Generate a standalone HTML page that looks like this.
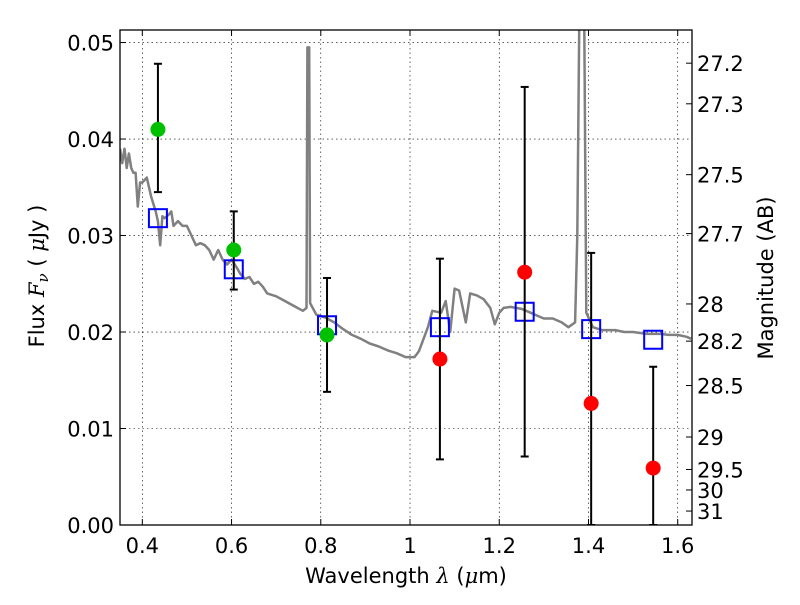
<!DOCTYPE html>
<html><head><meta charset="utf-8"><style>
body{margin:0;background:#fff;}
svg{font-family:"DejaVu Sans","Liberation Sans",sans-serif;}
</style></head><body>
<svg id="c" width="800" height="600"></svg>
<script>
const xTicks=[0.4,0.6,0.8,1.0,1.2,1.4,1.6];
const xTickLabels=["0.4","0.6","0.8","1","1.2","1.4","1.6"];
const yTicks=[0,0.01,0.02,0.03,0.04,0.05];
const yTickLabels=["0.00","0.01","0.02","0.03","0.04","0.05"];
const magTicks=[27.2,27.3,27.5,27.7,28,28.2,28.5,29,29.5,30,31];
const magTickLabels=["27.2","27.3","27.5","27.7","28","28.2","28.5","29","29.5","30","31"];
const greenX=[0.435,0.605,0.814];
const greenY=[0.0410,0.0285,0.0197];
const greenLo=[0.0345,0.0244,0.0138];
const greenHi=[0.0478,0.0325,0.0256];
const redX=[1.067,1.257,1.406,1.545];
const redY=[0.0172,0.0262,0.0126,0.0059];
const redLo=[0.0068,0.0071,0.0,0.0];
const redHi=[0.0276,0.0454,0.0282,0.0164];
const boxX=[0.435,0.605,0.814,1.067,1.257,1.406,1.545];
const boxY=[0.0318,0.0265,0.0207,0.0205,0.0221,0.0203,0.0192];
const specX=[0.350,0.355,0.36,0.365,0.37,0.375,0.38,0.385,0.39,0.395,0.40,0.41,0.42,0.43,0.435,0.44,0.445,0.45,0.46,0.465,0.47,0.48,0.49,0.50,0.51,0.52,0.53,0.54,0.55,0.56,0.57,0.58,0.59,0.60,0.61,0.62,0.63,0.64,0.65,0.66,0.67,0.68,0.70,0.72,0.74,0.76,0.768,0.770,0.774,0.776,0.79,0.81,0.83,0.85,0.87,0.89,0.91,0.93,0.95,0.97,0.99,1.01,1.02,1.04,1.05,1.07,1.08,1.09,1.10,1.11,1.125,1.135,1.15,1.165,1.18,1.19,1.20,1.21,1.225,1.25,1.27,1.29,1.30,1.32,1.34,1.355,1.37,1.375,1.38,1.39,1.395,1.41,1.43,1.46,1.48,1.50,1.53,1.56,1.58,1.60,1.62,1.63];
const specY=[0.039,0.0375,0.039,0.037,0.0385,0.037,0.0365,0.0365,0.033,0.0355,0.0355,0.036,0.034,0.0325,0.0315,0.029,0.032,0.0318,0.0322,0.0325,0.031,0.0315,0.031,0.031,0.030,0.029,0.0292,0.029,0.0285,0.0275,0.0285,0.0275,0.027,0.0275,0.0268,0.026,0.0255,0.0257,0.025,0.0252,0.0247,0.024,0.0237,0.0232,0.0227,0.0222,0.0225,0.0495,0.0495,0.023,0.0218,0.0215,0.021,0.0203,0.0197,0.0193,0.0188,0.0185,0.0181,0.0178,0.0174,0.0174,0.018,0.0205,0.0222,0.022,0.0232,0.020,0.0245,0.0243,0.021,0.024,0.0238,0.0234,0.0225,0.0208,0.022,0.0225,0.0226,0.0224,0.0220,0.0216,0.0214,0.0214,0.021,0.0205,0.021,0.030,0.056,0.056,0.022,0.0205,0.0202,0.0202,0.0200,0.0200,0.0198,0.0198,0.0197,0.0197,0.0195,0.0193];

const L=120,R=692,T=30,B=525;
const x0=0.35,x1=1.632,y0=0,y1=0.0513;
const sx=v=>L+(v-x0)/(x1-x0)*(R-L);
const sy=v=>B-(v-y0)/(y1-y0)*(B-T);
const magToFlux=m=>Math.pow(10,(23.9-m)/2.5);
const svg=document.getElementById('c');
const NS='http://www.w3.org/2000/svg';
function mk(tag,attrs,parent){const e=document.createElementNS(NS,tag);for(const k in attrs)e.setAttribute(k,attrs[k]);(parent||svg).appendChild(e);return e;}

const defs=mk('defs',{});
const cp=mk('clipPath',{id:'clip'},defs);
mk('rect',{x:L,y:T,width:R-L,height:B-T},cp);

xTicks.forEach((t,i)=>{
  const g=mk('line',{x1:sx(t),x2:sx(t),y1:T,y2:B,stroke:'#000','stroke-width':0.6,'stroke-dasharray':'1.5,3'});
  
  
});
yTicks.forEach((t,i)=>{
  const g=mk('line',{x1:L,x2:R,y1:sy(t),y2:sy(t),stroke:'#000','stroke-width':0.6,'stroke-dasharray':'1.5,3'});
  
  
});

const gSpec=mk('g',{'clip-path':'url(#clip)'});


let d='';
specX.forEach((v,i)=>{d+=(i?'L':'M')+sx(v).toFixed(1)+','+sy(specY[i]).toFixed(1);});
const sp=mk('path',{d:d,fill:'none',stroke:'#808080','stroke-width':2.5,'stroke-linejoin':'round'},gSpec);



const gMarks=mk('g',{'clip-path':'url(#clip)'});
boxX.forEach((v,i)=>{
  const r=mk('rect',{x:sx(v)-9,y:sy(boxY[i])-9,width:18,height:18,fill:'none',stroke:'#0000ff','stroke-width':2},gMarks);
  
  
});
function errbar(x,lo,hi){
  const e=mk('line',{x1:sx(x),x2:sx(x),y1:sy(lo),y2:sy(hi),stroke:'#000','stroke-width':2},gMarks);
  
  
  [lo,hi].forEach(v=>{const c=mk('line',{x1:sx(x)-4,x2:sx(x)+4,y1:sy(v),y2:sy(v),stroke:'#000','stroke-width':2},gMarks);
    
    });
}
greenX.forEach((v,i)=>{
  errbar(v,greenLo[i],greenHi[i]);
  const c=mk('circle',{cx:sx(v),cy:sy(greenY[i]),r:7.5,fill:'#00c000'},gMarks);
  
  
});
redX.forEach((v,i)=>{
  errbar(v,redLo[i],redHi[i]);
  const c=mk('circle',{cx:sx(v),cy:sy(redY[i]),r:7.5,fill:'#ff0000'},gMarks);
  
  
});

const fr=mk('rect',{x:L,y:T,width:R-L,height:B-T,fill:'none',stroke:'#000','stroke-width':1.3});



xTicks.forEach((t,i)=>{
  mk('line',{x1:sx(t),x2:sx(t),y1:B,y2:B-6,stroke:'#000'});
  mk('line',{x1:sx(t),x2:sx(t),y1:T,y2:T+6,stroke:'#000'});
  const tx=mk('text',{x:sx(t),y:B+28,'text-anchor':'middle','font-size':21});
  tx.textContent=xTickLabels[i];
  
  
});
yTicks.forEach((t,i)=>{
  mk('line',{x1:L,x2:L+6,y1:sy(t),y2:sy(t),stroke:'#000'});
  const tx=mk('text',{x:L-6,y:sy(t)+8,'text-anchor':'end','font-size':21});
  tx.textContent=yTickLabels[i];
  
  
});
magTicks.forEach((m,i)=>{
  const y=sy(magToFlux(m));
  mk('line',{x1:R,x2:R-6,y1:y,y2:y,stroke:'#000'});
  const tx=mk('text',{x:R+5,y:y+8,'text-anchor':'start','font-size':21});
  tx.textContent=magTickLabels[i];
  
  
});
</script>
<svg width="800" height="600" style="position:absolute;left:0;top:0;font-family:'DejaVu Sans','Liberation Sans',sans-serif">
<text x="406" y="583" text-anchor="middle" font-size="21">Wavelength  <tspan font-style="italic" font-family="'DejaVu Serif',serif">λ</tspan> (<tspan font-style="italic" font-family="'DejaVu Serif',serif">μ</tspan>m)</text>
<text transform="translate(44,276) rotate(-90)" text-anchor="middle" font-size="21">Flux  <tspan font-style="italic" font-family="'DejaVu Serif',serif">F<tspan font-size="15" dy="4">ν</tspan></tspan><tspan dy="-4"> (  </tspan><tspan font-style="italic" font-family="'DejaVu Serif',serif">μ</tspan>Jy )</text>
<text transform="translate(773,278) rotate(-90)" text-anchor="middle" font-size="21">Magnitude (AB)</text>
</svg>
</body></html>
